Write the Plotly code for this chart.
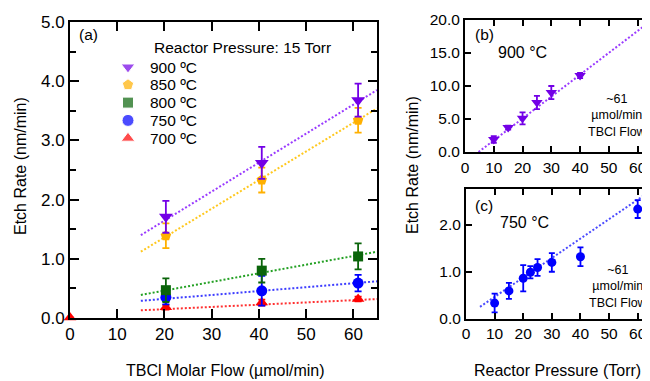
import plotly.graph_objects as go

# ---------------- data ----------------
# Panel (a): etch rate vs TBCl molar flow at 15 Torr
temps = ["900 ºC", "850 ºC", "800 ºC", "750 ºC", "700 ºC"]
flow = [20.3, 40.6, 61.0]
rate_900 = [1.71, 2.62, 3.68]
err_900 = [0.27, 0.27, 0.28]
rate_850 = [1.39, 2.33, 3.34]
err_850 = [0.21, 0.21, 0.21]
rate_800 = [0.47, 0.80, 1.04]
err_800 = [0.20, 0.20, 0.22]
rate_750 = [0.35, 0.46, 0.59]
err_750 = [0.12, 0.25, 0.14]
flow_700 = [0.0, 20.3, 40.6, 61.0]
rate_700 = [0.01, 0.18, 0.26, 0.32]
err_700 = [0.0, 0.04, 0.05, 0.04]

fit_flow = [15, 65]
fit_900 = [1.40, 3.85]
fit_850 = [1.12, 3.54]
fit_800 = [0.39, 1.12]
fit_750 = [0.29, 0.62]
fit_700 = [0.13, 0.32]

# Panel (b): 900 °C, etch rate vs reactor pressure
pressure_b = [10, 15, 20, 25, 30, 40]
rate_b = [1.9, 3.7, 5.1, 7.5, 9.0, 11.6]
err_b = [0.5, 0.3, 0.9, 1.0, 1.0, 0.4]
fit_b_x = [4.7, 65]
fit_b = [0.0, 20.0]

# Panel (c): 750 °C, etch rate vs reactor pressure
pressure_c = [10, 15, 20, 22.5, 25, 30, 40, 60]
rate_c = [0.33, 0.59, 0.86, 0.99, 1.09, 1.20, 1.32, 2.34]
err_c = [0.20, 0.17, 0.28, 0.13, 0.18, 0.20, 0.20, 0.19]
fit_c_x = [4.9, 65]
fit_c = [0.25, 2.75]

# ---------------- layout helpers ----------------
FONT = "Liberation Sans, Arial, sans-serif"
OFF = 8                      # page body margin of the html page
W, H = 650 - OFF, 381 - OFF  # figure size so that it fits the window


def px(x):   # window pixel -> paper x
    return (x - OFF) / W


def py(y):   # window pixel -> paper y
    return 1 - (y - OFF) / H


mk_colors = ["#7300E6", "#FFB000", "#0A640A", "#0000FF", "#FF0000"]
ln_colors = ["#9A3BFF", "#FFC81E", "#23A023", "#3C3CFF", "#FF3030"]
symbols = ["triangle-down", "pentagon", "square", "circle", "triangle-up"]
msizes = [12, 11, 10, 11, 11]

series_x = [flow, flow, flow, flow, flow_700]
series_y = [rate_900, rate_850, rate_800, rate_750, rate_700]
series_e = [err_900, err_850, err_800, err_750, err_700]
fits_y = [fit_900, fit_850, fit_800, fit_750, fit_700]

fig = go.Figure()

# fit lines (a)
for i in range(5):
    fig.add_trace(go.Scatter(
        x=fit_flow, y=fits_y[i], mode="lines", xaxis="x", yaxis="y",
        line=dict(color=ln_colors[i], width=2, dash="2px,2px"),
        showlegend=False, hoverinfo="skip"))

# data points (a)
for i in range(4, -1, -1):
    fig.add_trace(go.Scatter(
        x=series_x[i], y=series_y[i], mode="markers", xaxis="x", yaxis="y",
        name=temps[i], cliponaxis=False,
        marker=dict(symbol=symbols[i], size=msizes[i], color=mk_colors[i]),
        error_y=dict(type="data", array=series_e[i], visible=True,
                     color=mk_colors[i], thickness=1.8, width=3.5),
        showlegend=False))

# panel (b)
fig.add_trace(go.Scatter(
    x=fit_b_x, y=fit_b, mode="lines", xaxis="x2", yaxis="y2",
    line=dict(color=ln_colors[0], width=2, dash="2px,2px"),
    showlegend=False, hoverinfo="skip"))
fig.add_trace(go.Scatter(
    x=pressure_b, y=rate_b, mode="markers", xaxis="x2", yaxis="y2",
    marker=dict(symbol="triangle-down", size=10, color=mk_colors[0]),
    error_y=dict(type="data", array=err_b, visible=True, color=mk_colors[0],
                 thickness=1.8, width=3),
    showlegend=False))

# panel (c)
fig.add_trace(go.Scatter(
    x=fit_c_x, y=fit_c, mode="lines", xaxis="x3", yaxis="y3",
    line=dict(color="#4B4BFF", width=2, dash="2px,2px"),
    showlegend=False, hoverinfo="skip"))
fig.add_trace(go.Scatter(
    x=pressure_c, y=rate_c, mode="markers", xaxis="x3", yaxis="y3",
    marker=dict(symbol="circle", size=9, color=mk_colors[3]),
    error_y=dict(type="data", array=err_c, visible=True, color=mk_colors[3],
                 thickness=1.8, width=3),
    showlegend=False))

# manual legend (a): symbols on an invisible full-page axis pair (window pixels)
leg_x0, leg_y0, leg_step = 128, 67, 17.8
fig.add_trace(go.Scatter(
    x=[leg_x0] * 5, y=[leg_y0 + k * leg_step for k in range(5)],
    mode="markers", xaxis="x4", yaxis="y4", cliponaxis=False,
    marker=dict(symbol=symbols, size=[12, 12, 11, 12, 12], color=mk_colors),
    showlegend=False, hoverinfo="skip"))


def ax_common(**kw):
    d = dict(showgrid=False, zeroline=False, showline=True, linecolor="black",
             linewidth=2, mirror="ticks", ticks="inside", tickcolor="black",
             tickwidth=2, ticklen=9, automargin=False,
             tickfont=dict(family=FONT, size=17, color="black"))
    d.update(kw)
    return d


small_tf = dict(family=FONT, size=15.5, color="black")

fig.update_layout(
    width=W, height=H,
    margin=dict(l=0, r=0, t=0, b=0, pad=0, autoexpand=False),
    paper_bgcolor="white", plot_bgcolor="rgba(0,0,0,0)",
    font=dict(family=FONT, color="black"),
    showlegend=False,
    xaxis=ax_common(domain=[px(70), px(377)], range=[0, 65], dtick=10, tick0=0,
                    anchor="y"),
    yaxis=ax_common(domain=[py(318), py(22)], range=[0, 5], dtick=1,
                    tickformat=".1f", anchor="x",
                    minor=dict(dtick=0.5, ticks="inside", ticklen=6,
                               tickwidth=2, tickcolor="black")),
    xaxis2=ax_common(domain=[px(465), 1.0], range=[0, 64.3], dtick=10, tick0=0,
                     anchor="y2", ticklen=6, tickfont=small_tf),
    yaxis2=ax_common(domain=[py(152), py(20)], range=[0, 20], dtick=5,
                     tickformat=".1f", anchor="x2", ticklen=6, tickfont=small_tf),
    xaxis3=ax_common(domain=[px(466), 1.0], range=[0, 64.3], dtick=10, tick0=0,
                     anchor="y3", ticklen=6, tickfont=small_tf),
    yaxis3=ax_common(domain=[py(318.5), py(189)], range=[0, 2.77], dtick=1,
                     tickformat=".1f", anchor="x3", ticklen=6, tickfont=small_tf),
    xaxis4=dict(domain=[0, 1], range=[OFF, 650], visible=False, anchor="y4",
                automargin=False, fixedrange=True),
    yaxis4=dict(domain=[0, 1], range=[381, OFF], visible=False, anchor="x4",
                automargin=False, fixedrange=True),
)

ann = []


def txt(x, y, s, size, xanchor="center", **kw):
    d = dict(x=px(x), y=py(y), xref="paper", yref="paper", text=s,
             xanchor=xanchor, yanchor="middle", showarrow=False,
             font=dict(family=FONT, size=size, color="black"))
    d.update(kw)
    ann.append(d)


# axis titles
txt(20, 166, "Etch Rate (nm/min)", 16, textangle=-90)
txt(412, 165, "Etch Rate (nm/min)", 16, textangle=-90)
txt(225, 370, "TBCl Molar Flow (µmol/min)", 16)
txt(557.5, 370, "Reactor Pressure (Torr)", 16)

# panel a texts
txt(77, 34, "(a)", 15.5, xanchor="left")
txt(152, 48, "Reactor Pressure: 15 Torr", 15.5, xanchor="left")
for k in range(5):
    txt(148, leg_y0 + k * leg_step, temps[k], 15.5, xanchor="left")

# panel b texts
txt(473, 34, "(b)", 15.5, xanchor="left")
txt(496, 53, "900 °C", 16, xanchor="left")
txt(617, 116, "~61<br>µmol/min<br>TBCl Flow", 12.5)

# panel c texts
txt(473, 205, "(c)", 15.5, xanchor="left")
txt(498, 222, "750 °C", 16, xanchor="left")
txt(618, 286, "~61<br>µmol/min<br>TBCl Flow", 12.5)

fig.update_layout(annotations=ann)
fig.write_html("out.html")
